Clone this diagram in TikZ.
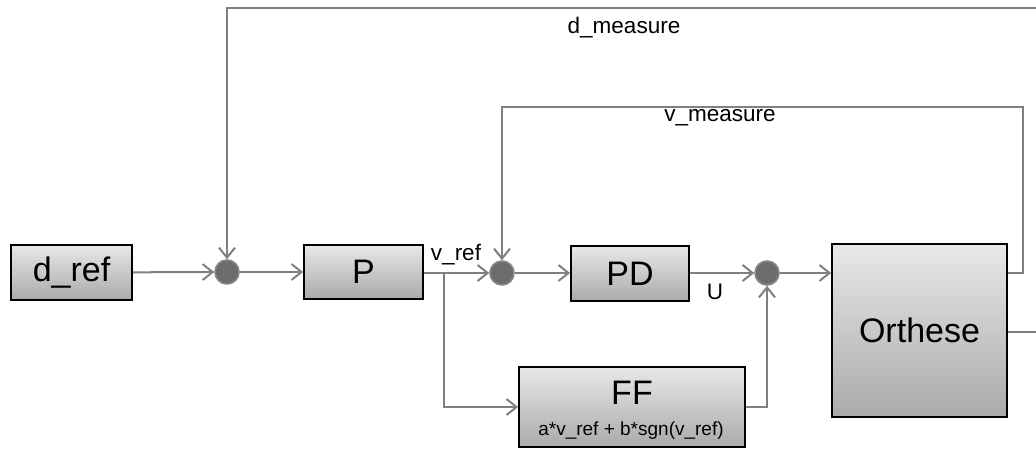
\documentclass[tikz,border=0pt]{standalone}
\usepackage{fontspec}
\setmainfont{Liberation Sans}
\usetikzlibrary{arrows.meta}

\definecolor{wirecol}{RGB}{128,128,128}
\definecolor{boxtop}{RGB}{232,232,232}
\definecolor{boxbot}{RGB}{170,170,170}
\definecolor{sumfill}{RGB}{108,108,108}
\definecolor{sumedge}{RGB}{135,135,135}

\newcommand{\blockfont}{\fontsize{34}{38}\selectfont}
\newcommand{\labelfont}{\fontsize{22.5}{26}\selectfont}
\newcommand{\exprfont}{\fontsize{19}{22}\selectfont}

\begin{document}
\begin{tikzpicture}[x=1pt,y=-1pt,
  block/.style={draw=black, line width=1.8pt, top color=boxtop, bottom color=boxbot,
                inner sep=0pt, text=black, font=\blockfont},
  sumnode/.style={circle, fill=sumfill, draw=sumedge, line width=1.6pt,
                  minimum size=24pt, inner sep=0pt},
  wire/.style={draw=wirecol, line width=2pt},
  arr/.style={wire, -{Straight Barb[length=10pt,width=16pt]}},
  sig/.style={font=\labelfont, inner sep=0pt, text=black}]
\useasboundingbox (0,0) rectangle (1036,450);

% blocks
\node[block, minimum width=121pt, minimum height=55pt] (dref) at (71.5,272.5) {d\_ref};
\node[block, minimum width=119pt, minimum height=54pt] (P) at (363.5,272) {P};
\node[block, minimum width=118pt, minimum height=55pt] (PD) at (630,273.5) {PD};
\node[block, minimum width=175pt, minimum height=173pt] (Orth) at (919.5,330.5) {Orthese};
\node[block, minimum width=226pt, minimum height=80pt] (FF) at (632,407) {};
\node[font=\blockfont, inner sep=0pt] (fftitle) at (632,393) {FF};
\node[font=\exprfont, inner sep=0pt] (ffexpr) at (631,431) {a*v\_ref + b*sgn(v\_ref)};

% summing junctions
\node[sumnode] (sum1) at (227,272) {};
\node[sumnode] (sum2) at (502,273) {};
\node[sumnode] (sum3) at (767,273) {};

% auxiliary points of the feedback and branch lines
\coordinate (br) at (444,272.5);
\coordinate (dtop) at (227,8);
\coordinate (dright) at (1036,8);
\coordinate (yout) at (1036,332);
\coordinate (vtop) at (502,107);
\coordinate (vright) at (1023,107);

% forward path
\draw[arr] (dref) -- (sum1);
\draw[arr] (sum1) -- (P);
\draw[arr] (P.east |- sum2) -- (sum2);
\draw[arr] (sum2) -- (PD.west |- sum2);
\draw[arr] (PD.east |- sum3) -- (sum3);
\draw[arr] (sum3) -- (Orth.west |- sum3);

% feed-forward branch
\draw[arr] (br) |- (FF.west);
\draw[arr] (FF.east) -| (sum3);

% position feedback
\draw[wire] (Orth.east |- yout) -- (yout);
\draw[arr] (dright) -- (dtop) -- (sum1);

% velocity feedback
\draw[arr] (Orth.east |- sum3) -| (vright) -- (vtop) -- (sum2);

% signal labels
\node[sig] (lbldm) at (624,28) {d\_measure};
\node[sig] (lblvm) at (720,118) {v\_measure};
\node[sig] (lblvr) at (456,255) {v\_ref};
\node[sig] (lblu) at (715,292) {U};
\end{tikzpicture}
\end{document}
